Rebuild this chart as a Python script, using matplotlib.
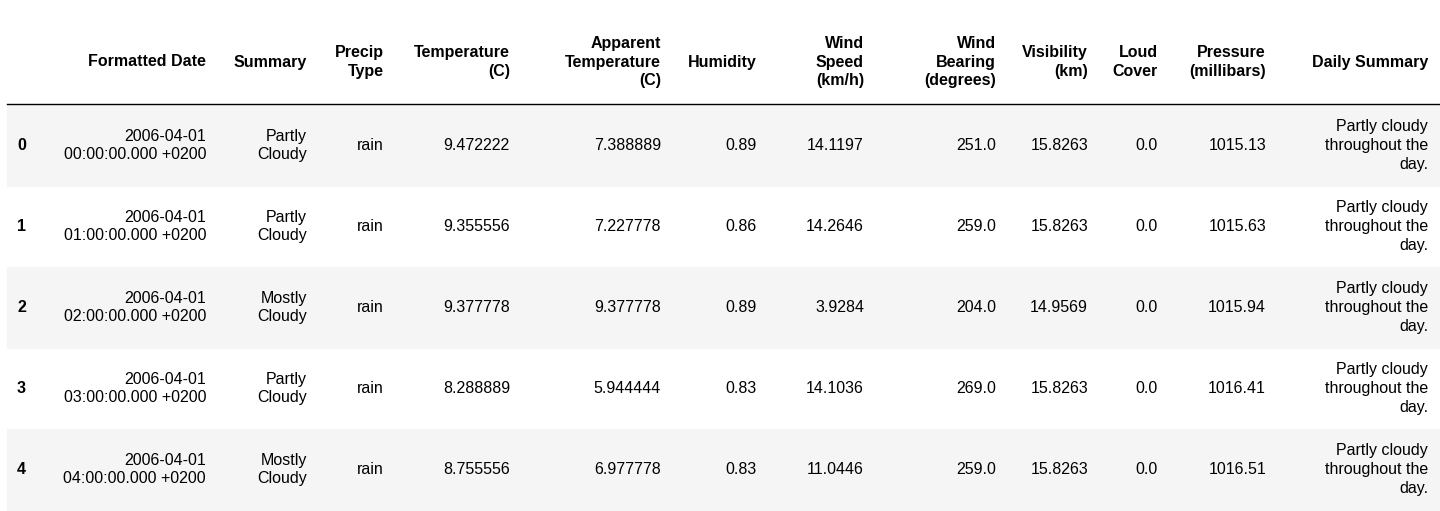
import matplotlib.pyplot as plt
from matplotlib.patches import Rectangle

plt.rcParams['font.family'] = ['Liberation Sans', 'DejaVu Sans']

headers = ["Formatted Date", "Summary", "Precip\nType", "Temperature\n(C)",
           "Apparent\nTemperature\n(C)", "Humidity", "Wind\nSpeed\n(km/h)",
           "Wind\nBearing\n(degrees)", "Visibility\n(km)", "Loud\nCover",
           "Pressure\n(millibars)", "Daily Summary"]
index = ["0", "1", "2", "3", "4"]
dates = ["2006-04-01\n00:00:00.000 +0200", "2006-04-01\n01:00:00.000 +0200",
         "2006-04-01\n02:00:00.000 +0200", "2006-04-01\n03:00:00.000 +0200",
         "2006-04-01\n04:00:00.000 +0200"]
summary = ["Partly\nCloudy", "Partly\nCloudy", "Mostly\nCloudy", "Partly\nCloudy", "Mostly\nCloudy"]
precip = ["rain"] * 5
temperature = ["9.472222", "9.355556", "9.377778", "8.288889", "8.755556"]
apparent = ["7.388889", "7.227778", "9.377778", "5.944444", "6.977778"]
humidity = ["0.89", "0.86", "0.89", "0.83", "0.83"]
wind_speed = ["14.1197", "14.2646", "3.9284", "14.1036", "11.0446"]
wind_bearing = ["251.0", "259.0", "204.0", "269.0", "259.0"]
visibility = ["15.8263", "15.8263", "14.9569", "15.8263", "15.8263"]
loud_cover = ["0.0"] * 5
pressure = ["1015.13", "1015.63", "1015.94", "1016.41", "1016.51"]
daily = ["Partly cloudy\nthroughout the\nday."] * 5

columns = [dates, summary, precip, temperature, apparent, humidity, wind_speed,
           wind_bearing, visibility, loud_cover, pressure, daily]
right_edges = [206, 307, 384, 510, 661, 757, 864, 996, 1088, 1158, 1266, 1428]

fig = plt.figure(figsize=(14.4, 5.11), dpi=100)
ax = fig.add_axes([0, 0, 1, 1])
ax.set_xlim(0, 1440)
ax.set_ylim(511, 0)
ax.axis('off')

fs = 11.5
ls = 1.3
header_y = 62
row_h = 81
top = 105

for x, h in zip(right_edges, headers):
    ax.text(x, header_y, h, ha='right', va='center', multialignment='right',
            fontsize=fs, fontweight='bold', linespacing=ls)
ax.plot([7, 1440], [104, 104], color='black', lw=1)

for i, idx in enumerate(index):
    y0 = top + i * row_h
    if i % 2 == 0:
        ax.add_patch(Rectangle((7, y0), 1433, row_h, color='#f5f5f5', zorder=0))
    yc = y0 + row_h / 2
    ax.text(17, yc, idx, ha='left', va='center', fontsize=fs, fontweight='bold')
    for x, col in zip(right_edges, columns):
        ax.text(x, yc, col[i], ha='right', va='center', multialignment='right',
                fontsize=fs, linespacing=ls)

fig.savefig('out.png', dpi=100)
